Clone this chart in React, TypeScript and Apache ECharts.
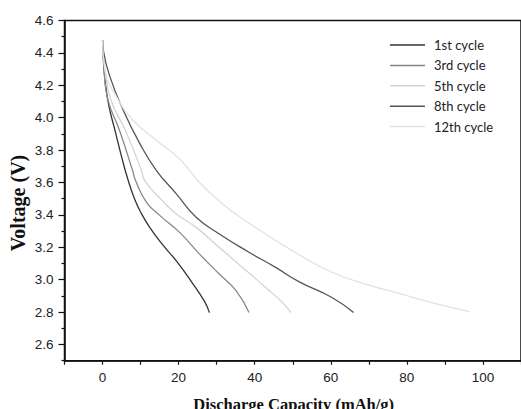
import React, { useEffect, useRef } from "react";
import * as echarts from "echarts";

const seriesNames = ["1st cycle", "3rd cycle", "5th cycle", "8th cycle", "12th cycle"];
const seriesColors = ["#333333", "#888888", "#d4d4d4", "#555555", "#e2e2e2"];

const cycle1: [number, number][] = [
  [0, 4.479], [0.26, 4.355], [0.65, 4.232], [1.6, 4.08], [3.27, 3.922], [5.0, 3.76],
  [6.75, 3.612], [8.4, 3.5], [9.8, 3.427], [12.4, 3.323], [16.0, 3.21], [19.4, 3.116],
  [23.3, 2.99], [26.8, 2.866], [28.1, 2.797],
];
const cycle3: [number, number][] = [
  [0, 4.479], [0.39, 4.293], [1.44, 4.108], [4.45, 3.922], [7.9, 3.674],
  [8.68, 3.612], [11.56, 3.478], [15.03, 3.397], [20.26, 3.292], [25.5, 3.158],
  [30.7, 3.035], [35.1, 2.932], [38.5, 2.797],
];
const cycle5: [number, number][] = [
  [0, 4.479], [0.65, 4.293], [2.22, 4.108], [6.0, 3.922], [10.25, 3.674],
  [11.1, 3.612], [15.7, 3.488], [19.4, 3.406], [24.6, 3.323], [30.7, 3.199],
  [36.8, 3.076], [42.9, 2.952], [47.3, 2.859], [49.5, 2.797],
];
const cycle8: [number, number][] = [
  [0, 4.479], [0.2, 4.417], [1.96, 4.252], [5.44, 4.046], [9.8, 3.84], [14.17, 3.674],
  [19.4, 3.53], [24.6, 3.385], [30.7, 3.282], [38.6, 3.168], [45.5, 3.076],
  [51.6, 2.988], [60.3, 2.89], [66.0, 2.797],
];
const cycle12: [number, number][] = [
  [0, 4.479], [0.65, 4.293], [3.71, 4.128], [8.05, 3.984], [14.17, 3.86], [20.26, 3.745],
  [25.5, 3.6], [31.6, 3.468], [35.9, 3.39], [42.9, 3.282], [51.6, 3.155],
  [60.3, 3.046], [69.1, 2.973], [77.8, 2.916], [86.5, 2.859], [96.5, 2.803],
];
const seriesData = [cycle1, cycle3, cycle5, cycle8, cycle12];

const xLabelValues = [0, 20, 40, 60, 80, 100];
const xTickValues = [-10, 0, 10, 20, 30, 40, 50, 60, 70, 80, 90, 100, 110];
const yLabelValues = [2.6, 2.8, 3.0, 3.2, 3.4, 3.6, 3.8, 4.0, 4.2, 4.4, 4.6];
const yMinorTickValues = [2.5, 2.7, 2.9, 3.1, 3.3, 3.5, 3.7, 3.9, 4.1, 4.3, 4.5];

const xTitle = "Discharge Capacity (mAh/g)";
const yTitle = "Voltage (V)";

const X_MIN = -10;
const X_MAX = 110;
const Y_MIN = 2.5;
const Y_MAX = 4.6;

export default function App() {
  const ref = useRef<HTMLDivElement>(null);
  useEffect(() => {
    if (!ref.current) return;
    const chart = echarts.init(ref.current, undefined, { renderer: "svg" });
    const labelStyle = {
      fontFamily: "Arial",
      fontSize: 13.5,
      color: "#222",
    };
    chart.setOption({
      animation: false,
      backgroundColor: "#fff",
      textStyle: { fontFamily: "Arial" },
      grid: {
        left: 64.5,
        top: 20.5,
        right: -2,
        bottom: 48.3,
        show: true,
        borderColor: "#111",
        borderWidth: 1.5,
      },
      legend: {
        orient: "vertical",
        left: 390,
        top: 37,
        padding: 0,
        icon: "rect",
        itemWidth: 35,
        itemHeight: 1.5,
        itemGap: 4.4,
        data: seriesNames,
        textStyle: {
          fontFamily: "Lato",
          fontSize: 13,
          lineHeight: 16,
          color: "#222",
          padding: [0, 0, 0, 4],
        },
      },
      xAxis: {
        type: "value",
        min: X_MIN,
        max: X_MAX,
        splitLine: { show: false },
        axisLine: { show: true, onZero: false, lineStyle: { color: "#111", width: 1.5 } },
        axisTick: {
          show: true,
          inside: false,
          length: 4,
          customValues: xTickValues,
          lineStyle: { color: "#111", width: 1.2 },
        },
        axisLabel: { ...labelStyle, margin: 10, customValues: xLabelValues },
      },
      yAxis: [
        {
          type: "value",
          min: Y_MIN,
          max: Y_MAX,
          position: "left",
          splitLine: { show: false },
          axisLine: { show: true, onZero: false, lineStyle: { color: "#111", width: 1.5 } },
          axisTick: {
            show: true,
            length: 6,
            customValues: yLabelValues,
            lineStyle: { color: "#111", width: 1.2 },
          },
          axisLabel: {
            ...labelStyle,
            margin: 11,
            customValues: yLabelValues,
            formatter: (v: number) => v.toFixed(1),
          },
        },
        {
          type: "value",
          min: Y_MIN,
          max: Y_MAX,
          position: "left",
          offset: 0,
          splitLine: { show: false },
          axisLine: { show: false, onZero: false },
          axisTick: {
            show: true,
            length: 3,
            customValues: yMinorTickValues,
            lineStyle: { color: "#111", width: 1.2 },
          },
          axisLabel: { show: false },
        },
      ],
      graphic: [
        {
          type: "text",
          x: 18,
          y: 203,
          rotation: Math.PI / 2,
          style: {
            text: yTitle,
            font: "bold 20px 'Liberation Serif', 'Times New Roman', serif",
            fill: "#111",
            textAlign: "center",
            textVerticalAlign: "middle",
          },
        },
        {
          type: "text",
          x: 293.7,
          y: 396,
          style: {
            text: xTitle,
            font: "bold 16.5px 'Liberation Serif', 'Times New Roman', serif",
            fill: "#111",
            textAlign: "center",
            textVerticalAlign: "top",
          },
        },
      ],
      series: seriesNames.map((name, i) => ({
        name,
        type: "line",
        data: seriesData[i],
        yAxisIndex: 0,
        smooth: 0.5,
        symbol: "none",
        showSymbol: false,
        lineStyle: { color: seriesColors[i], width: 1.3 },
        itemStyle: { color: seriesColors[i] },
      })),
    });
    return () => chart.dispose();
  }, []);
  return (
    <div
      ref={ref}
      style={{ position: "fixed", left: 0, top: 0, width: 521, height: 409 }}
    />
  );
}
